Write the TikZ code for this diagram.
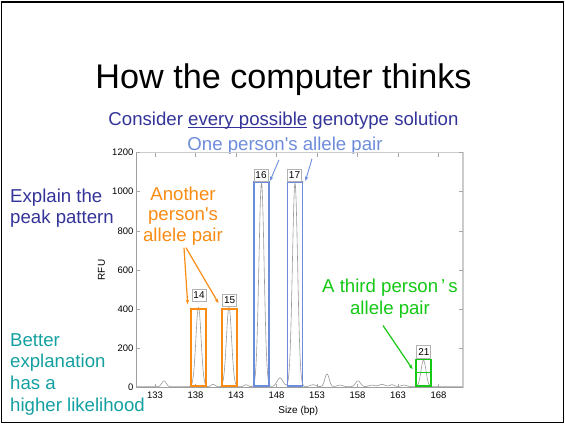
\documentclass[tikz,border=0pt]{standalone}
\usepackage{fontspec}
\setmainfont{Liberation Sans}[Ligatures=TeXOff]
\usetikzlibrary{arrows.meta,calc}

\definecolor{slidenavy}{RGB}{51,51,153}
\definecolor{slidesky}{RGB}{110,140,220}
\definecolor{slideorange}{RGB}{250,140,20}
\definecolor{slidegreen}{RGB}{20,200,20}
\definecolor{slideteal}{RGB}{20,160,160}

% underline drawn just below the baseline
\newcommand\slideul[1]{\setbox0\hbox{#1}\rlap{\rule[-2.6pt]{\wd0}{1.1pt}}\box0\relax}

\begin{document}
\begin{tikzpicture}[x=1bp,y=-1bp,
  body/.style={inner sep=0pt,font=\fontsize{18.7}{21.8}\selectfont},
  ticklbl/.style={inner sep=0pt,font=\fontsize{9.5}{11}\selectfont},
  axislbl/.style={inner sep=0pt,font=\fontsize{10}{12}\selectfont},
  peakbox/.style={draw,line width=1.6bp,inner sep=0pt,minimum width=15bp},
  peaklbl/.style={draw=gray!60,fill=white,line width=0.7bp,inner sep=0pt,
    minimum width=14bp,minimum height=12.3bp,font=\fontsize{10}{12}\selectfont},
  pointer/.style={-{Stealth[length=4.5bp,width=3.5bp]}},
  declare function={
    g(\x,\c,\s)=exp(-0.5*(min(abs(\x-\c)/\s,9))^2);
    rfu(\x)=4+30*g(\x,164,2.2)+405*g(\x,198.5,2.6)+12*g(\x,213,2)
      +405*g(\x,229,2.6)+10*g(\x,246,2)+1040*g(\x,261.5,2.6)
      +45*g(\x,280,3)+1040*g(\x,295,2.6)+10*g(\x,313,3)
      +65*g(\x,327,2.2)+8*g(\x,340,3)+30*g(\x,358,2.5)
      +8*g(\x,372,3)+12*g(\x,382,3)+10*g(\x,392,2.5)
      +8*g(\x,404,3)+135*g(\x,423.5,2.5);
  }]
\useasboundingbox (0,0) rectangle (565,426);

% slide frame
\draw[black,line width=1.2bp] (1.5,2) rectangle (563.5,422.5);

% headings
\node[anchor=base,inner sep=0pt,font=\fontsize{34.3}{40}\selectfont] (title)
  at (283.5,88.3) {How the computer thinks};
\node[body,anchor=base,text=slidenavy] (consider) at (283.5,125.3)
  {Consider \slideul{every possible} genotype solution};
\node[body,anchor=base,text=slidesky] (opp) at (285,150.7)
  {One person's allele pair};

% plot axes
\draw[gray!40,line width=1.4bp] (136,152.5) -- (463,152.5) -- (463,387.5);
\draw[gray!75,line width=0.8bp] (136,152.5) -- (136,387.5) -- (463,387.5);
\foreach \v in {0,200,...,1200}{
  \draw[gray!70,line width=0.6bp] (136,{387.5-0.19583*\v}) -- ++(4,0);
  \draw[gray!70,line width=0.6bp] (463,{387.5-0.19583*\v}) -- ++(-4,0);
  \node[ticklbl,anchor=east] (yl\v) at (133.5,{387.5-0.19583*\v}) {\v};
}
\foreach \s [count=\i from 0] in {133,138,...,168}{
  \draw[gray!70,line width=0.6bp] ({155+40.5*\i},387.5) -- ++(0,-4);
  \draw[gray!70,line width=0.6bp] ({155+40.5*\i},152.5) -- ++(0,4);
  \node[ticklbl,anchor=north] (xl\s) at ({155+40.5*\i},391.5) {\s};
}
\node[axislbl,rotate=90] (rfulbl) at (101.5,270) {RFU};
\node[axislbl] (sizelbl) at (298.3,410.5) {Size (bp)};

% electropherogram trace
\draw[gray!80,line width=0.6bp,line join=round]
  plot[domain=136.5:462.5,samples=800,smooth] (\x,{387.5-0.19583*rfu(\x)});

% allele boxes
\node[peakbox,draw=slideorange,minimum height=77bp] (b14) at (198.5,347.5) {};
\node[peakbox,draw=slideorange,minimum height=77bp] (b15) at (229.2,347.5) {};
\node[peakbox,draw=slidesky,minimum width=15.3bp,minimum height=204.3bp] (b16) at (261.6,283.85) {};
\node[peakbox,draw=slidesky,minimum width=15.3bp,minimum height=204.3bp] (b17) at (295,283.85) {};
\node[peakbox,draw=slidegreen,minimum width=15.3bp,minimum height=13bp] (b21a) at (423.4,365.8) {};
\node[peakbox,draw=slidegreen,minimum width=15.3bp,minimum height=13.7bp] (b21b) at (423.4,379.2) {};

% allele labels
\node[peaklbl] (l14) at (199,295.2) {14};
\node[peaklbl] (l15) at (229.7,300) {15};
\node[peaklbl] (l16) at (261,175) {16};
\node[peaklbl] (l17) at (294.5,175) {17};
\node[peaklbl] (l21) at (423.8,351.7) {21};

% side notes
\node[body,anchor=north west,align=left,text=slidenavy] (explain) at (10,188.5)
  {Explain the\\peak pattern};
\node[body,anchor=north west,align=left,text=slideteal] (better) at (10,333)
  {Better\\explanation\\has a\\higher likelihood};
\node[body,anchor=north,align=center,text=slideorange,
  font=\fontsize{18.7}{20.8}\selectfont] (anp) at (183,186.5)
  {Another\\person's\\allele pair};
\node[body,anchor=north,align=center,text=slidegreen] (tpp) at (390,279)
  {A third person\,’\,s\\allele pair};

% pointers
\draw[pointer,slidesky,line width=0.9bp] ($(opp.south)+(-6,5)$) -- (b16.north east);
\draw[pointer,slidesky,line width=0.9bp] ($(opp.south)+(27,4)$) -- ($(b17.north east)+(2,0)$);
\draw[pointer,slideorange,line width=1.2bp] ($(anp.south)+(1,2)$) -- ($(b14.north west)+(-2.5,-4)$);
\draw[pointer,slideorange,line width=1.2bp] ($(anp.south)+(3,2)$) -- ($(b15.north west)+(-2.4,-5)$);
\draw[pointer,slidegreen,line width=1.2bp] ($(tpp.south)+(-7,7)$) -- ($(b21a.north west)+(-2.4,10.7)$);
\end{tikzpicture}
\end{document}
